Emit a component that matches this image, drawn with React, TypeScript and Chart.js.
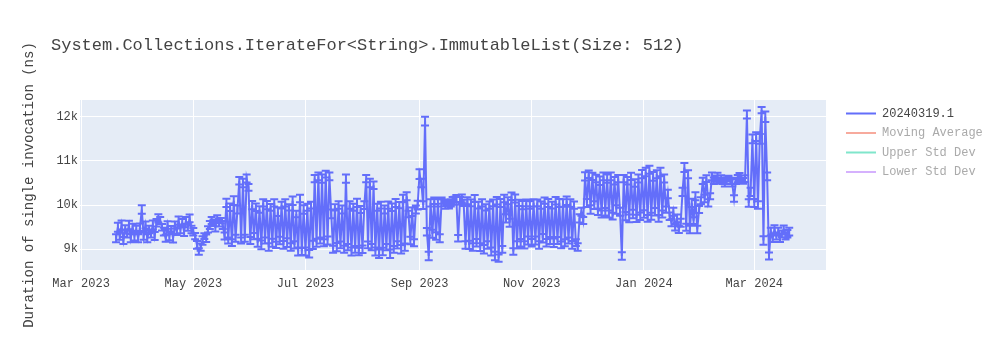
import React, { useEffect, useRef } from "react";
import { Chart, registerables } from "chart.js";

Chart.register(...registerables);

const TITLE = "System.Collections.IterateFor<String>.ImmutableList(Size: 512)";
const Y_TITLE = "Duration of single invocation (ns)";
const SERIES_NAME = "20240319.1";
const EXTRA_SERIES = ["Moving Average", "Upper Std Dev", "Lower Std Dev"];
const LEGEND_LINE_COLORS = ["#636efa", "#f7aa9d", "#80e6cb", "#d5b1fd"];
const LEGEND_TEXT_COLORS = ["#444444", "#aaaaaa", "#aaaaaa", "#aaaaaa"];

// first measured day, one value per day after it
const FIRST_DAY = "2023-03-20";

const mar2023 = [9250, 9500, 9300, 9550, 9200, 9450, 9350, 9550, 9250, 9500, 9300, 9450];
const apr2023 = [9250, 9500, 9900, 9300, 9550, 9250, 9450, 9350, 9550, 9300, 9600, 9700, 9650, 9500, 9400, 9250, 9550, 9300, 9450, 9250, 9550, 9400, 9650, 9450, 9600, 9400, 9650, 9500, 9700, 9450];
const may2023 = [9400, 9300, 9100, 8950, 9050, 9200, 9300, 9250, 9450, 9550, 9650, 9600, 9500, 9700, 9600, 9650, 9550, 9300, 10050, 9200, 9950, 9150, 10100, 9250, 9900, 10550, 9200, 10500, 9250, 10600, 10400];
const jun2023 = [9200, 10000, 9300, 9950, 9150, 9900, 9100, 10050, 9200, 10000, 9050, 9950, 9150, 10050, 9100, 9850, 9200, 10000, 9100, 10050, 9150, 9950, 9050, 10100, 9100, 9800, 8950, 10150, 8950, 9900];
const jul2023 = [8950, 9950, 8900, 10000, 9100, 10600, 9150, 10650, 9200, 10600, 9150, 10700, 9200, 10650, 9800, 9000, 9950, 9050, 10000, 9100, 9900, 9000, 10600, 9050, 10000, 8950, 9950, 9000, 10050, 8950, 9900];
const aug2023 = [9000, 10000, 10600, 9100, 10500, 9050, 10450, 8950, 9950, 8900, 10000, 8950, 9900, 9050, 10000, 8900, 9950, 9000, 10050, 9100, 10000, 9000, 10150, 9050, 10200, 9800, 9200, 9850, 9150, 9900, 10000];
const sep2023 = [10700, 10500, 10000, 11900, 9400, 8850, 10050, 9350, 10100, 9300, 10050, 9250, 10100, 10050, 10000, 10050, 10000, 10050, 10100, 10100, 10150, 9250, 10100, 10150, 10050, 9100, 10100, 9100, 10050, 9050];
const oct2023 = [10150, 9150, 10000, 9050, 10050, 9000, 9950, 9100, 10000, 8950, 10050, 8850, 10100, 8800, 10050, 9000, 10150, 9700, 10100, 9600, 10200, 8950, 10150, 9100, 10050, 9150, 10000, 9100, 10050, 9200, 10000];
const nov2023 = [9150, 10050, 9200, 10050, 9100, 10000, 9250, 10100, 9150, 10050, 9200, 10000, 9150, 10100, 9200, 10050, 9100, 10050, 9150, 10100, 9200, 10050, 9100, 10000, 9150, 9050, 9700, 9850, 9650, 10650];
const dec2023 = [10050, 10700, 9900, 10650, 10000, 10600, 9850, 10550, 9800, 10650, 9850, 10600, 9800, 10650, 9750, 10550, 9900, 10600, 9850, 8850, 10600, 9750, 10550, 9700, 10650, 9800, 10500, 9700, 10600, 9750, 10700];
const jan2024 = [9800, 10750, 9700, 10800, 9750, 10650, 9850, 10700, 9700, 10750, 9800, 10600, 9900, 10250, 9750, 9600, 9850, 9500, 9700, 9450, 9600, 10300, 10850, 9500, 10700, 9450, 10050, 9650, 10200, 9450, 9900];
const feb2024 = [10100, 10550, 10150, 10600, 10050, 10200, 10650, 10550, 10600, 10650, 10550, 10600, 10550, 10500, 10550, 10600, 10550, 10500, 10150, 10550, 10600, 10650, 10600, 10550, 10600, 12050, 10050, 10300, 11500];
const mar2024 = [10050, 11550, 10000, 11500, 12150, 9200, 12000, 10650, 8850, 9400, 9250, 9450, 9300, 9400, 9250, 9350, 9450, 9300, 9350, 9400];

const mar2023Std = [90, 100, 85, 100, 80, 95, 85, 95, 90, 80, 100, 85];
const apr2023Std = [90, 85, 95, 85, 80, 90, 85, 80, 100, 90, 85, 95, 80, 75, 90, 80, 85, 95, 80, 95, 80, 75, 90, 85, 85, 100, 80, 80, 90, 85];
const may2023Std = [85, 70, 90, 75, 80, 95, 65, 85, 70, 90, 80, 75, 95, 70, 85, 60, 90, 80, 95, 70, 85, 75, 100, 80, 90, 85, 70, 95, 80, 90, 75];
const jun2023Std = [80, 95, 70, 85, 90, 75, 100, 80, 70, 95, 85, 75, 90, 80, 70, 95, 85, 75, 90, 80, 100, 70, 85, 95, 80, 75, 90, 85, 80, 95];
const jul2023Std = [90, 80, 85, 75, 95, 80, 90, 85, 70, 95, 80, 75, 90, 85, 100, 80, 70, 95, 85, 75, 90, 80, 95, 70, 85, 90, 80, 75, 95, 85, 80];
const aug2023Std = [85, 90, 80, 75, 95, 70, 85, 90, 80, 95, 75, 85, 90, 70, 80, 95, 85, 75, 90, 80, 70, 95, 85, 80, 90, 75, 85, 95, 80, 90, 100];
const sep2023Std = [110, 95, 90, 100, 85, 95, 80, 90, 75, 85, 80, 90, 70, 75, 80, 70, 75, 80, 85, 90, 80, 75, 85, 90, 70, 85, 80, 95, 75, 85];
const oct2023Std = [80, 85, 75, 90, 80, 95, 70, 85, 80, 90, 75, 95, 85, 80, 90, 75, 85, 95, 80, 90, 85, 75, 90, 80, 70, 85, 95, 80, 75, 90, 85];
const nov2023Std = [85, 80, 90, 75, 85, 80, 95, 70, 85, 90, 80, 75, 95, 85, 80, 90, 75, 85, 80, 95, 70, 85, 90, 80, 75, 85, 95, 90, 80, 95];
const dec2023Std = [90, 85, 95, 80, 90, 85, 75, 95, 80, 90, 85, 95, 80, 90, 75, 85, 95, 80, 90, 85, 80, 95, 85, 90, 80, 95, 85, 80, 90, 85, 95];
const jan2024Std = [85, 95, 75, 90, 80, 100, 85, 90, 75, 95, 80, 90, 70, 95, 85, 80, 90, 75, 85, 80, 90, 95, 100, 80, 90, 85, 95, 75, 90, 85, 80];
const feb2024Std = [80, 70, 85, 75, 80, 70, 85, 75, 70, 80, 65, 75, 70, 80, 75, 65, 70, 80, 75, 70, 80, 75, 70, 65, 75, 90, 85, 95, 100];
const mar2024Std = [90, 100, 85, 110, 70, 95, 120, 85, 80, 90, 85, 95, 80, 90, 85, 75, 90, 80, 85, 90];

const durations = [
  ...mar2023, ...apr2023, ...may2023, ...jun2023, ...jul2023, ...aug2023, ...sep2023,
  ...oct2023, ...nov2023, ...dec2023, ...jan2024, ...feb2024, ...mar2024,
];
const stdDevs = [
  ...mar2023Std, ...apr2023Std, ...may2023Std, ...jun2023Std, ...jul2023Std, ...aug2023Std, ...sep2023Std,
  ...oct2023Std, ...nov2023Std, ...dec2023Std, ...jan2024Std, ...feb2024Std, ...mar2024Std,
];

const X_TICK_DATES = ["2023-03-01", "2023-05-01", "2023-07-01", "2023-09-01", "2023-11-01", "2024-01-01", "2024-03-01"];
const X_TICK_LABELS = ["Mar 2023", "May 2023", "Jul 2023", "Sep 2023", "Nov 2023", "Jan 2024", "Mar 2024"];
const Y_TICK_VALUES = [9000, 10000, 11000, 12000];
const Y_TICK_LABELS = ["9k", "10k", "11k", "12k"];

const X_RANGE = ["2023-02-28T09:36:00Z", "2024-04-09T00:00:00Z"];
const Y_RANGE = [8532, 12378];

const DAY = 86400000;
const FONT = '"Liberation Mono", "Courier New", monospace';
const toMs = (s: string) => Date.parse(s.length === 10 ? s + "T00:00:00Z" : s);

const startMs = toMs(FIRST_DAY);
const points = durations.map((v, i) => ({ x: startMs + i * DAY, y: v, err: stdDevs[i] }));

const plotBgPlugin = {
  id: "plotBg",
  beforeDraw(chart: any) {
    const { ctx, chartArea } = chart;
    ctx.save();
    ctx.fillStyle = "#e5ecf6";
    ctx.fillRect(chartArea.left, chartArea.top, chartArea.right - chartArea.left, chartArea.bottom - chartArea.top);
    ctx.restore();
  },
};

const errorBarsPlugin = {
  id: "errorBars",
  afterDatasetsDraw(chart: any) {
    const meta = chart.getDatasetMeta(0);
    if (!meta || meta.hidden) return;
    const { ctx, chartArea } = chart;
    const xs = chart.scales.x;
    const ys = chart.scales.y;
    const data = chart.data.datasets[0].data as any[];
    ctx.save();
    ctx.beginPath();
    ctx.rect(chartArea.left, chartArea.top, chartArea.right - chartArea.left, chartArea.bottom - chartArea.top);
    ctx.clip();
    ctx.strokeStyle = "#636efa";
    ctx.lineWidth = 2;
    ctx.beginPath();
    for (const p of data) {
      const x = xs.getPixelForValue(p.x);
      const yTop = ys.getPixelForValue(p.y + p.err);
      const yBot = ys.getPixelForValue(p.y - p.err);
      ctx.moveTo(x, yTop);
      ctx.lineTo(x, yBot);
      ctx.moveTo(x - 4, yTop);
      ctx.lineTo(x + 4, yTop);
      ctx.moveTo(x - 4, yBot);
      ctx.lineTo(x + 4, yBot);
    }
    ctx.stroke();
    ctx.restore();
  },
};

export default function App() {
  const canvasRef = useRef<HTMLCanvasElement>(null);

  useEffect(() => {
    const canvas = canvasRef.current;
    if (!canvas) return;
    const xTicks = X_TICK_DATES.map(toMs);
    const chart = new Chart(canvas, {
      type: "line",
      data: {
        datasets: [
          {
            label: SERIES_NAME,
            data: points as any,
            borderColor: "#636efa",
            backgroundColor: "#636efa",
            borderWidth: 2,
            pointRadius: 0,
            tension: 0,
            fill: false,
          },
          ...EXTRA_SERIES.map((name, i) => ({
            label: name,
            data: [] as any[],
            hidden: true,
            borderColor: LEGEND_LINE_COLORS[i + 1],
            borderWidth: 2,
            pointRadius: 0,
          })),
        ],
      },
      options: {
        animation: false,
        responsive: false,
        maintainAspectRatio: false,
        parsing: false as any,
        layout: { padding: { top: 100, left: 0, right: 7.5, bottom: 0 } },
        scales: {
          x: {
            type: "linear",
            min: toMs(X_RANGE[0]),
            max: toMs(X_RANGE[1]),
            afterBuildTicks: (s: any) => {
              s.ticks = xTicks.map((v) => ({ value: v }));
            },
            afterFit: (s: any) => {
              s.height = 80;
            },
            ticks: {
              autoSkip: false,
              maxRotation: 0,
              padding: 7,
              color: "#444",
              font: { family: FONT, size: 12 },
              callback: (v: any) => X_TICK_LABELS[xTicks.indexOf(Number(v))] ?? "",
            },
            grid: { color: "#ffffff", lineWidth: 1, drawTicks: false },
            border: { display: false },
          },
          y: {
            type: "linear",
            min: Y_RANGE[0],
            max: Y_RANGE[1],
            afterBuildTicks: (s: any) => {
              s.ticks = Y_TICK_VALUES.map((v) => ({ value: v }));
            },
            afterFit: (s: any) => {
              s.width = 80;
            },
            ticks: {
              padding: 2,
              color: "#444",
              font: { family: FONT, size: 12 },
              callback: (v: any) => Y_TICK_LABELS[Y_TICK_VALUES.indexOf(Number(v))] ?? "",
            },
            grid: { color: "#ffffff", lineWidth: 1, drawTicks: false },
            border: { display: false },
            title: {
              display: true,
              text: Y_TITLE,
              color: "#444",
              font: { family: FONT, size: 14 },
              padding: { top: 21, bottom: 0 },
            },
          },
          legendGap: {
            type: "linear",
            position: "right",
            display: true,
            afterFit: (s: any) => {
              s.width = 12.5;
            },
            ticks: { display: false },
            grid: { display: false },
            border: { display: false },
          },
        },
        plugins: {
          title: { display: false },
          tooltip: { enabled: false },
          legend: {
            display: true,
            position: "right",
            align: "start",
            fullSize: false,
            maxWidth: 154,
            onClick: () => {},
            labels: {
              boxWidth: 30,
              boxHeight: 2,
              padding: 7.5,
              font: { family: FONT, size: 12 },
              generateLabels: (c: any) =>
                c.data.datasets.map((ds: any, i: number) => ({
                  text: ds.label,
                  fillStyle: LEGEND_LINE_COLORS[i],
                  strokeStyle: LEGEND_LINE_COLORS[i],
                  lineWidth: 0,
                  hidden: false,
                  fontColor: LEGEND_TEXT_COLORS[i],
                  datasetIndex: i,
                })),
            },
          },
        },
      } as any,
      plugins: [plotBgPlugin, errorBarsPlugin],
    });
    return () => chart.destroy();
  }, []);

  return (
    <div style={{ position: "absolute", left: 0, top: 0, width: 1000, height: 350, background: "#ffffff" }}>
      <canvas ref={canvasRef} width={1000} height={350} style={{ display: "block" }} />
      <div
        style={{
          position: "absolute",
          left: 51,
          top: 37,
          font: `17px ${FONT}`,
          lineHeight: "17px",
          color: "#444",
          whiteSpace: "pre",
        }}
      >
        {TITLE}
      </div>
    </div>
  );
}
